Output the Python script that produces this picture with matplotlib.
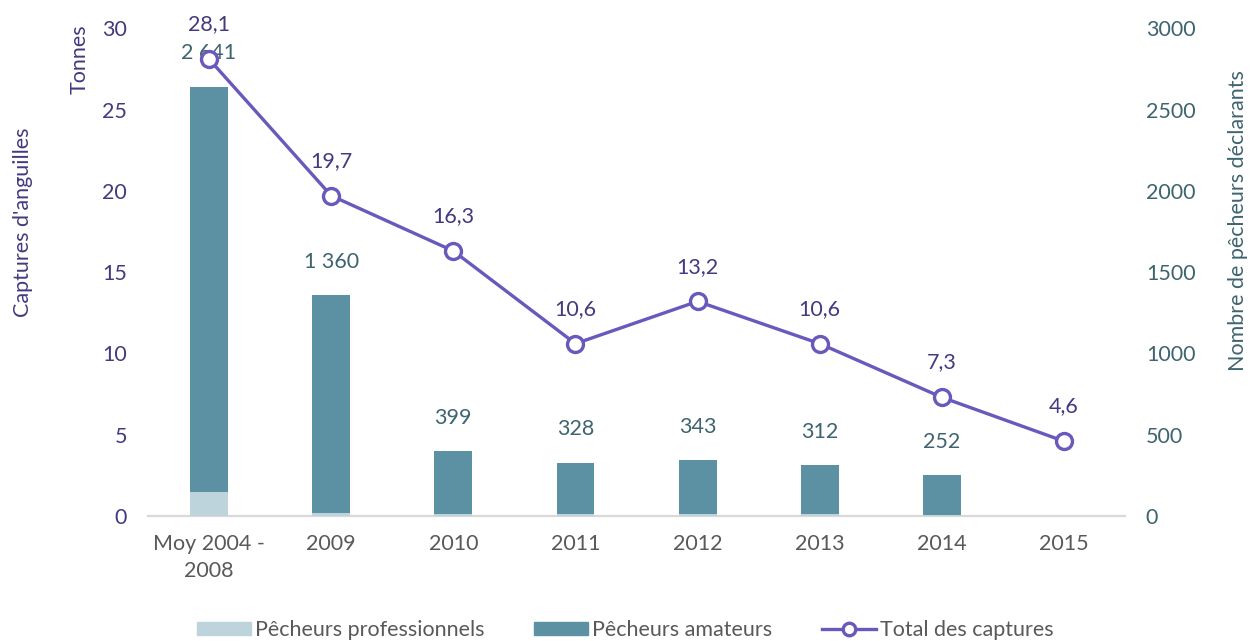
import matplotlib.pyplot as plt
from matplotlib.patches import Patch
from matplotlib.lines import Line2D

plt.rcParams['font.family'] = ['Lato', 'DejaVu Sans']

categories = ["Moy 2004 -\n2008", "2009", "2010", "2011", "2012", "2013", "2014", "2015"]
# total catches (tonnes)
captures = [28.1, 19.7, 16.3, 10.6, 13.2, 10.6, 7.3, 4.6]
# declaring fishers: total per year and professional part (no bar for 2015)
declarants = [2641, 1360, 399, 328, 343, 312, 252]
professionnels = [145, 18, 13, 13, 12, 10, 8]
amateurs = [t - p for t, p in zip(declarants, professionnels)]

PURPLE = "#6B58BC"
PURPLE_TXT = "#45397F"
TEAL = "#5B91A3"
LIGHT = "#BDD4DC"
TEAL_TXT = "#3E6470"
GREY = "#595959"
FS = 15.5

fig = plt.figure(figsize=(12.51, 6.41), dpi=100)
ax = fig.add_axes([0.1183, 0.195, 0.781, 0.761])
ax2 = ax.twinx()

x = list(range(len(categories)))
xb = x[:len(declarants)]

# bars on the right axis (number of fishers)
ax2.bar(xb, professionnels, width=0.31, color=LIGHT, zorder=1)
ax2.bar(xb, amateurs, width=0.31, bottom=professionnels, color=TEAL, zorder=1)
for xi, v in zip(xb, declarants):
    ax2.annotate(f"{v:,}".replace(",", " "), (xi, v), xytext=(0, 24), textcoords="offset points",
                 ha="center", va="center", color=TEAL_TXT, fontsize=FS)
ax2.set_ylim(0, 3000)
ax2.set_yticks(range(0, 3001, 500))

# catches line drawn on top
ax3 = ax.twinx()
ax3.set_ylim(0, 30)
ax3.axis("off")
ax3.plot(x, captures, color=PURPLE, lw=2.4, marker="o", ms=11.5, mfc="white", mec=PURPLE, mew=2.4, zorder=3)
for xi, v in zip(x, captures):
    ax3.annotate(f"{v:.1f}".replace(".", ","), (xi, v), xytext=(0, 25), textcoords="offset points",
                 ha="center", va="center", color=PURPLE_TXT, fontsize=FS)

ax.set_ylim(0, 30)
ax.set_yticks(range(0, 31, 5))
ax.set_xlim(-0.5, 7.5)
ax.set_xticks(x)
ax.set_xticklabels(categories, color=GREY, fontsize=FS, linespacing=1.45)

for a in (ax, ax2):
    for s in a.spines.values():
        s.set_visible(False)
ax.spines["bottom"].set_visible(True)
ax.spines["bottom"].set_color("#D9D9D9")
ax.spines["bottom"].set_linewidth(1.6)
ax.tick_params(axis="x", length=0, pad=13)
ax.tick_params(axis="y", length=0, pad=15, labelcolor=PURPLE_TXT, labelsize=FS)
ax2.tick_params(axis="y", length=0, pad=15, labelcolor=TEAL_TXT, labelsize=FS)
ax.set_zorder(0)
ax2.set_zorder(1)
ax3.set_zorder(2)

fig.text(0.064, 1 - 59 / 641, "Tonnes", rotation=90, ha="center", va="center", color=PURPLE_TXT, fontsize=FS)
fig.text(0.0184, 1 - 222 / 641, "Captures d'anguilles", rotation=90, ha="center", va="center",
         color=PURPLE_TXT, fontsize=FS)
fig.text(0.9897, 1 - 221 / 641, "Nombre de pêcheurs déclarants", rotation=90, ha="center", va="center",
         color=TEAL_TXT, fontsize=FS)

handles = [Patch(color=LIGHT), Patch(color=TEAL),
           Line2D([], [], color=PURPLE, lw=2.4, marker="o", ms=9, mfc="white", mec=PURPLE, mew=2.4)]
labels = ["Pêcheurs professionnels", "Pêcheurs amateurs", "Total des captures"]
leg = fig.legend(handles, labels, loc="center", bbox_to_anchor=(0.5, 1 - 630 / 641), ncol=3, frameon=False,
                 fontsize=FS, handlelength=2.5, handleheight=0.6, handletextpad=0.2, columnspacing=2.3)
for t in leg.get_texts():
    t.set_color(GREY)

fig.savefig("out.png", dpi=100)
